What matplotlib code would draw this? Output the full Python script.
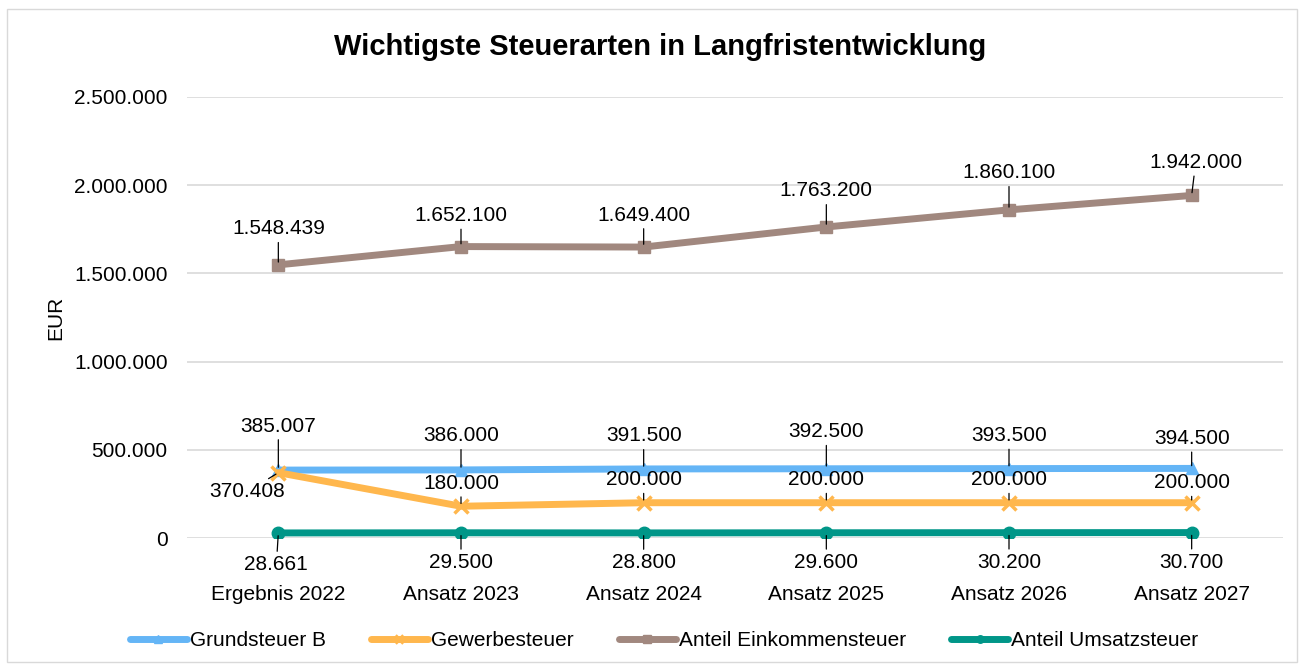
import matplotlib
matplotlib.use("Agg")
import matplotlib.pyplot as plt
from matplotlib.patches import Rectangle
from matplotlib.ticker import FuncFormatter

plt.rcParams['font.family'] = ['Liberation Sans', 'DejaVu Sans']

categories = ["Ergebnis 2022", "Ansatz 2023", "Ansatz 2024", "Ansatz 2025", "Ansatz 2026", "Ansatz 2027"]
grundsteuer_b = [385007, 386000, 391500, 392500, 393500, 394500]
gewerbesteuer = [370408, 180000, 200000, 200000, 200000, 200000]
einkommensteuer = [1548439, 1652100, 1649400, 1763200, 1860100, 1942000]
umsatzsteuer = [28661, 29500, 28800, 29600, 30200, 30700]

# label offsets in pixels (dx, dy)
off_grund = [(0, 44), (0, 34), (0, 33), (0, 37), (0, 33), (0, 30)]
off_gewerbe = [(-31, -19), (0, 23), (0, 23), (0, 23), (0, 23), (0, 20)]
off_eink = [(0, 36), (0, 31), (0, 32), (0, 36), (0, 37), (4, 33)]
off_ums = [(-2, -32), (0, -30), (0, -30), (0, -30), (0, -30), (0, -30)]


def fmt(v):
    return f"{v:,.0f}".replace(",", ".")


fig = plt.figure(figsize=(13.04, 6.70), dpi=100)
ax = fig.add_axes([187/1304, 1-538/670, (1283-187)/1304, (538-97)/670])

fig.patches.append(Rectangle((7/1304, 1-662/670), (1297-7)/1304, (662-9)/670,
                             transform=fig.transFigure, fill=False,
                             edgecolor='#D9D9D9', linewidth=1.0))

x = list(range(len(categories)))
series = [
    ("Grundsteuer B", grundsteuer_b, '#64B5F6', '^', off_grund),
    ("Gewerbesteuer", gewerbesteuer, '#FFB74D', 'x', off_gewerbe),
    ("Anteil Einkommensteuer", einkommensteuer, '#A1887F', 's', off_eink),
    ("Anteil Umsatzsteuer", umsatzsteuer, '#009688', 'o', off_ums),
]

handles = []
for name, vals, col, mk, offs in series:
    kw = dict(markersize=9)
    if mk == 'x':
        kw = dict(markersize=10, markeredgewidth=2.5)
    h, = ax.plot(x, vals, color=col, linewidth=5, marker=mk, label=name,
                 solid_capstyle='round', **kw)
    handles.append(h)
    for xi, v, (dx, dy) in zip(x, vals, offs):
        ax.annotate(fmt(v), xy=(xi, v), xytext=(dx, dy), textcoords='offset pixels',
                    ha='center', va='center', fontsize=15, color='#000000',
                    arrowprops=dict(arrowstyle='-', color='black', lw=0.9,
                                    shrinkA=1, shrinkB=2),
                    zorder=5)

ax.set_xlim(-0.5, 5.5)
ax.set_ylim(0, 2500000)
ax.set_yticks([0, 500000, 1000000, 1500000, 2000000, 2500000])
ax.yaxis.set_major_formatter(FuncFormatter(lambda v, p: fmt(v)))
ax.set_xticks(x)
ax.set_xticklabels(categories)
ax.tick_params(axis='x', length=0, pad=34, labelsize=15)
ax.tick_params(axis='y', length=0, pad=14, labelsize=15)
ax.grid(axis='y', color='#D9D9D9', linewidth=1.2)
ax.set_axisbelow(True)
for s in ax.spines.values():
    s.set_visible(False)

ax.set_ylabel("EUR", fontsize=15)
ax.yaxis.set_label_coords(-(187-65)/(1283-187), 0.5)

fig.text(660/1304, 1-47/670, "Wichtigste Steuerarten in Langfristentwicklung",
         ha='center', va='center', fontsize=21, fontweight='bold')

fig.legend(handles=handles, loc='center', bbox_to_anchor=(664/1304, 1-641/670),
           ncol=4, frameon=False, fontsize=15, handlelength=2.75, handletextpad=0.15,
           columnspacing=2.15, markerscale=0.6)

fig.savefig("out.png", dpi=100)
